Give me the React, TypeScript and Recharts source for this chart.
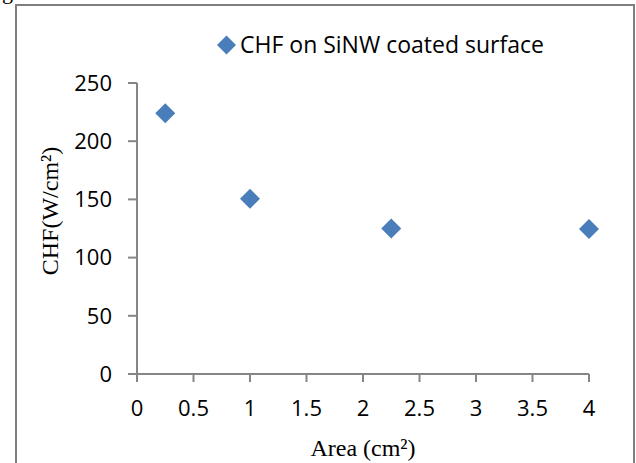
import React from 'react';
import { ScatterChart, Scatter, XAxis, YAxis, Legend } from 'recharts';

const areas = [0.25, 1, 2.25, 4];
const chfValues = [224, 150.5, 125, 124.5];
const xTicks = [0, 0.5, 1, 1.5, 2, 2.5, 3, 3.5, 4];
const yTicks = [0, 50, 100, 150, 200, 250];
const seriesName = 'CHF on SiNW coated surface';

const data = areas.map((a, i) => ({ x: a, y: chfValues[i] }));

const AXIS = '#868686';
const BLUE = '#4a7ebb';
const SANS = '"Open Sans", "Noto Sans", sans-serif';
const SERIF = '"Liberation Serif", "Times New Roman", serif';

const diamondPoints = (cx: number, cy: number, r: number) =>
  `${cx},${cy - r} ${cx + r},${cy} ${cx},${cy + r} ${cx - r},${cy}`;

const DiamondShape = (props: any) => {
  const { cx, cy } = props;
  if (cx == null || cy == null) return null;
  return <polygon points={diamondPoints(cx, cy, 10)} fill={BLUE} />;
};

const YTitle = () => (
  <text
    x={58}
    y={211}
    transform="rotate(-90 58 211)"
    textAnchor="middle"
    fontFamily={SERIF}
    fontSize={24}
    fill="#000"
  >
    CHF(W/cm²)
  </text>
);

const LegendContent = (props: any) => {
  const items = props.payload || [];
  return (
    <svg width={400} height={40} style={{ display: 'block', overflow: 'visible' }}>
      {items.map((it: any, i: number) => (
        <g key={i}>
          <polygon points={diamondPoints(11.5, 15, 9.5)} fill={it.color || BLUE} />
          <text x={25} y={23} fontFamily={SANS} fontSize={23} fill="#000">
            {it.value}
          </text>
        </g>
      ))}
    </svg>
  );
};

export default function App() {
  return (
    <div style={{ position: 'absolute', left: 0, top: 0, width: 636, height: 463, background: '#fff', overflow: 'hidden' }}>
      <svg width={636} height={463} style={{ position: 'absolute', left: 0, top: 0 }}>
        <rect x={16} y={5} width={618} height={470} fill="none" stroke="#7f7f7f" strokeWidth={2} />
        <text x={2} y={-1} fontFamily={SERIF} fontSize={22} fill="#000">g</text>
      </svg>
      <div style={{ position: 'absolute', left: 0, top: 0 }}>
        <ScatterChart width={636} height={463} margin={{ top: 83, right: 47, bottom: 3, left: 77 }}>
          <XAxis
            type="number"
            dataKey="x"
            domain={[0, 4]}
            ticks={xTicks}
            interval={0}
            stroke={AXIS}
            strokeWidth={2}
            tickSize={8}
            tickMargin={18}
            height={86}
            tick={{ fill: '#000', fontFamily: SANS, fontSize: 22 }}
            label={{ value: 'Area (cm²)', position: 'insideBottom', offset: 4, fill: '#000', fontFamily: SERIF, fontSize: 24 }}
          />
          <YAxis
            type="number"
            dataKey="y"
            domain={[0, 250]}
            ticks={yTicks}
            interval={0}
            stroke={AXIS}
            strokeWidth={2}
            tickSize={9}
            tickMargin={16}
            width={60}
            tick={{ fill: '#000', fontFamily: SANS, fontSize: 22 }}
            label={<YTitle />}
          />
          <Legend
            layout="horizontal"
            verticalAlign="middle"
            align="center"
            wrapperStyle={{ top: 30, left: 215, width: 400, height: 40 }}
            content={<LegendContent />}
          />
          <Scatter
            name={seriesName}
            data={data}
            fill={BLUE}
            shape={<DiamondShape />}
            legendType="diamond"
            isAnimationActive={false}
          />
        </ScatterChart>
      </div>
    </div>
  );
}
